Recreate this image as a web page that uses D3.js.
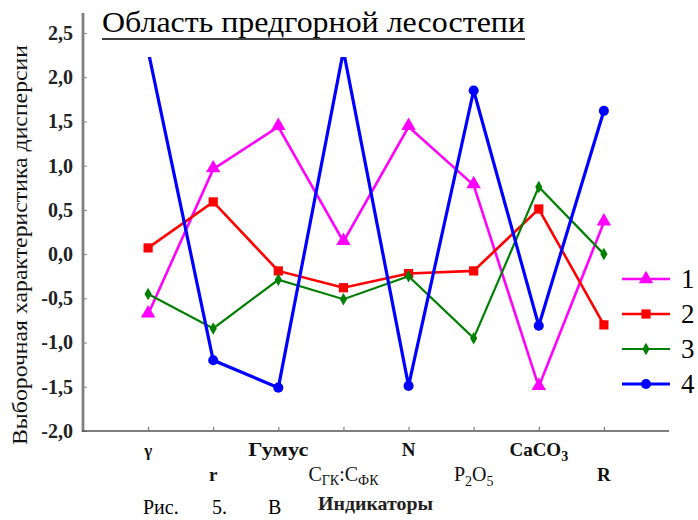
<!DOCTYPE html>
<html><head><meta charset="utf-8">
<script src="https://cdn.jsdelivr.net/npm/d3@7/dist/d3.min.js"></script>
<style>body{margin:0;background:#fff;}svg{display:block;} text{font-family:"Liberation Serif","Times New Roman",serif;}</style>
</head><body>
<svg id="c" width="698" height="520"></svg>
<script>
const categories = ["γ","r","Гумус","CГК:CФК","N","P2O5","CaCO3","R"];
const series1 = [-0.68, 0.96, 1.44, 0.14, 1.44, 0.78, -1.50, 0.36];
const series2 = [0.07, 0.59, -0.19, -0.38, -0.22, -0.19, 0.51, -0.80];
const series3 = [-0.45, -0.84, -0.29, -0.51, -0.25, -0.95, 0.76, 0.00];
const series4 = [2.30, -1.20, -1.51, 2.30, -1.49, 1.85, -0.81, 1.62];
const seriesNames = ["1","2","3","4"];
const yTicks = [2.5, 2.0, 1.5, 1.0, 0.5, 0.0, -0.5, -1.0, -1.5, -2.0];
const title = "Область предгорной лесостепи";
const yTitle = "Выборочная характеристика дисперсии";
const xTitle = "Индикаторы";
const captionParts = ["Рис.", "5.", "В"];

const svg = d3.select("#c");
const serif = "\"Liberation Serif\", \"Times New Roman\", serif";
const x = d3.scalePoint().domain(categories).range([83, 669]).padding(1);
const y = d3.scaleLinear().domain([-2.0, 2.5]).range([431, 33]);

const styles = [
  {color:"#ff00ff", w:2.6, sym:d3.symbolTriangle, size:90},
  {color:"#ff0000", w:2.6, sym:d3.symbolSquare, size:85},
  {color:"#008000", w:2.2, sym:d3.symbolDiamond, size:45},
  {color:"#0000ff", w:3.2, sym:d3.symbolCircle, size:80}
];
const data = [series1, series2, series3, series4];

// clip
svg.append("clipPath").attr("id","pc").append("rect")
  .attr("x", 84).attr("y", 57).attr("width", 600).attr("height", 373);

// title
svg.append("text").attr("x", 102).attr("y", 32)
  .style("font-family", serif).style("font-size","30px")
  .attr("textLength", 423).attr("lengthAdjust","spacingAndGlyphs")
  .attr("fill","#000").text(title);
svg.append("line").attr("x1",102).attr("x2",525).attr("y1",39).attr("y2",39)
  .attr("stroke","#000").attr("stroke-width",1.6);

// y axis
const yAxis = d3.axisLeft(y).tickValues(yTicks).tickSize(0).tickPadding(10)
  .tickFormat(d => d3.format(".1f")(d).replace(".", ",").replace("−","-"));
const ya = svg.append("g").attr("transform","translate(83,0)").call(yAxis);
ya.attr("font-family", null).attr("font-size", null);
ya.select(".domain").remove();
ya.selectAll("text").style("font-family", serif).style("font-size","20px").style("font-weight","bold").attr("fill","#222");
ya.selectAll(".tick").append("line").attr("x1",1).attr("x2",4).attr("stroke","#888").attr("stroke-width",1);
svg.append("line").attr("x1",83).attr("x2",83).attr("y1",13).attr("y2",432)
  .attr("stroke","#808080").attr("stroke-width",2.8);

// x axis
const xa = svg.append("g").attr("transform","translate(0,431)")
  .call(d3.axisBottom(x).tickSize(0).tickFormat(""));
xa.select(".domain").remove();
xa.selectAll(".tick").append("line").attr("y1",-1).attr("y2",-4).attr("stroke","#666").attr("stroke-width",1);
svg.append("line").attr("x1",82).attr("x2",669).attr("y1",431).attr("y2",431)
  .attr("stroke","#555").attr("stroke-width",1.6);

// x labels (staggered)
const labelG = svg.append("g").style("font-family", serif).style("font-weight","bold").style("font-size","19px").attr("fill","#111");
categories.forEach((c,i) => {
  const t = labelG.append("text").attr("x", x(c)).attr("y", i%2===0 ? 456 : 481).attr("text-anchor","middle");
  if (c === "CГК:CФК") {
    t.style("font-weight","normal").style("font-size","20px");
    t.append("tspan").text("C");
    t.append("tspan").style("font-size","14px").attr("dy",4).text("ГК");
    t.append("tspan").attr("dy",-4).text(":C");
    t.append("tspan").style("font-size","14px").attr("dy",4).text("ФК");
  } else if (c === "P2O5") {
    t.style("font-weight","normal").style("font-size","20px");
    t.append("tspan").text("P");
    t.append("tspan").style("font-size","14px").attr("dy",5).text("2");
    t.append("tspan").attr("dy",-5).text("O");
    t.append("tspan").style("font-size","14px").attr("dy",5).text("5");
  } else if (c === "CaCO3") {
    t.append("tspan").text("CaCO");
    t.append("tspan").style("font-size","14px").attr("dy",5).text("3");
  } else if (c === "Гумус") {
    t.attr("textLength", 60).attr("lengthAdjust","spacingAndGlyphs").text(c);
  } else if (c === "γ") {
    t.style("font-size","17px").text(c);
  } else {
    t.text(c);
  }
});

// axis titles
svg.append("text").attr("x",318).attr("y",510)
  .style("font-family",serif).style("font-weight","bold").style("font-size","19px")
  .attr("textLength",115).attr("lengthAdjust","spacingAndGlyphs").attr("fill","#222").text(xTitle);
svg.append("text").attr("transform","translate(27,445) rotate(-90)")
  .style("font-family",serif).style("font-size","22px")
  .attr("textLength",400).attr("lengthAdjust","spacingAndGlyphs").attr("fill","#111").text(yTitle);

// caption fragment at bottom
const capX = [143, 212, 268];
captionParts.forEach((p,i) => {
  svg.append("text").attr("x",capX[i]).attr("y",514).style("font-family",serif).style("font-size","20px")
    .attr("fill","#000").text(p);
});

// series
const line = d3.line().x((d,i) => x(categories[i])).y(d => y(d));
const plot = svg.append("g").attr("clip-path","url(#pc)");
data.forEach((vals, k) => {
  const s = styles[k];
  plot.append("path").datum(vals).attr("d", line).attr("fill","none")
    .attr("stroke", s.color).attr("stroke-width", s.w).attr("stroke-linejoin","miter");
  plot.selectAll(null).data(vals).enter().append("path")
    .attr("d", d3.symbol().type(s.sym).size(s.size))
    .attr("transform", (d,i) => `translate(${x(categories[i])},${y(d)})` + (s.sym===d3.symbolTriangle ? " translate(0,-1)" : ""))
    .attr("fill", s.color);
});

// legend
const legY = [279, 314, 349, 384];
seriesNames.forEach((n,k) => {
  const s = styles[k];
  const g = svg.append("g").attr("transform",`translate(0,${legY[k]})`);
  g.append("line").attr("x1",622).attr("x2",670).attr("stroke",s.color).attr("stroke-width",s.w);
  g.append("path").attr("d", d3.symbol().type(s.sym).size(s.size)).attr("transform","translate(646,0)").attr("fill",s.color);
  g.append("text").attr("x",681).attr("y",9).style("font-family",serif).style("font-size","27px").attr("fill","#000").text(n);
});
</script>
</body></html>
